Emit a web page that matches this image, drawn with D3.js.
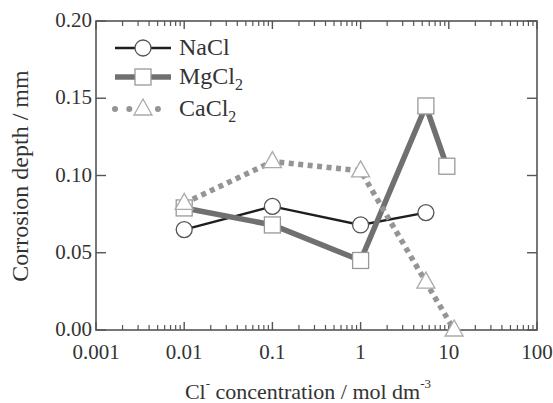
<!DOCTYPE html>
<html>
<head>
<meta charset="utf-8">
<script src="https://cdn.jsdelivr.net/npm/d3@7"></script>
<style>
  body { margin: 0; background: #fff; }
  text { font-family: "Liberation Serif", "DejaVu Serif", serif; fill: #333; }
</style>
</head>
<body>
<svg width="553" height="403"></svg>
<script>
'use strict';
// data
const xTicks = [0.001, 0.01, 0.1, 1, 10, 100]
const xTickLabels = ["0.001", "0.01", "0.1", "1", "10", "100"]
const yTicks = [0, 0.05, 0.10, 0.15, 0.20]

const naclX = [0.01, 0.1, 1, 5.5]
const naclY = [0.065, 0.080, 0.068, 0.076]
const mgcl2X = [0.01, 0.1, 1, 5.5, 9.5]
const mgcl2Y = [0.079, 0.068, 0.045, 0.145, 0.106]
const cacl2X = [0.01, 0.1, 1, 5.5, 11.5]
const cacl2Y = [0.082, 0.109, 0.103, 0.031, 0.000]

let svg = d3.select("svg")
let m = {left: 96, right: 537, top: 21, bottom: 330}

let x = d3.scaleLog().domain([0.001, 100]).range([m.left, m.right])
let y = d3.scaleLinear().domain([0, 0.2]).range([m.bottom, m.top])

const axisCol = "#555"

// minor ticks for the log axis
let minors = []
for (let dec = 0.001; dec < 100; dec *= 10)
	for (let k = 2; k <= 9; k++) minors.push(dec * k)

let gAx = svg.append("g")
// frame
gAx.append("rect")
	.attr("x", m.left).attr("y", m.top)
	.attr("width", m.right - m.left).attr("height", m.bottom - m.top)
	.attr("fill", "none").attr("stroke", axisCol).attr("stroke-width", 1.6)

// x ticks, bottom and top, pointing in
xTicks.forEach(v => {
	gAx.append("line").attr("x1", x(v)).attr("x2", x(v))
		.attr("y1", m.bottom).attr("y2", m.bottom - 8).attr("stroke", axisCol).attr("stroke-width", 1.4)
	gAx.append("line").attr("x1", x(v)).attr("x2", x(v))
		.attr("y1", m.top).attr("y2", m.top + 8).attr("stroke", axisCol).attr("stroke-width", 1.4)
})
minors.forEach(v => {
	gAx.append("line").attr("x1", x(v)).attr("x2", x(v))
		.attr("y1", m.bottom).attr("y2", m.bottom - 5).attr("stroke", axisCol).attr("stroke-width", 1.2)
	gAx.append("line").attr("x1", x(v)).attr("x2", x(v))
		.attr("y1", m.top).attr("y2", m.top + 5).attr("stroke", axisCol).attr("stroke-width", 1.2)
})
xTicks.forEach((v, i) => {
	gAx.append("text").attr("x", x(v)).attr("y", m.bottom + 29)
		.attr("text-anchor", "middle").attr("font-size", 21).text(xTickLabels[i])
})

// y ticks, left and right
yTicks.forEach(v => {
	gAx.append("line").attr("x1", m.left).attr("x2", m.left + 10)
		.attr("y1", y(v)).attr("y2", y(v)).attr("stroke", axisCol).attr("stroke-width", 1.4)
	gAx.append("line").attr("x1", m.right).attr("x2", m.right - 10)
		.attr("y1", y(v)).attr("y2", y(v)).attr("stroke", axisCol).attr("stroke-width", 1.4)
	gAx.append("text").attr("x", m.left - 4).attr("y", y(v) + 6)
		.attr("text-anchor", "end").attr("font-size", 21).text(v.toFixed(2))
})

// axis titles
let xt = svg.append("text").attr("x", 308).attr("y", 399)
	.attr("text-anchor", "middle").attr("font-size", 22)
xt.append("tspan").text("Cl")
xt.append("tspan").attr("dy", -11).attr("font-size", 13).text("-")
xt.append("tspan").attr("dy", 11).text(" concentration / mol dm")
xt.append("tspan").attr("dy", -11).attr("font-size", 13).text("-3")

svg.append("text")
	.attr("transform", "translate(28,176) rotate(-90)")
	.attr("text-anchor", "middle").attr("font-size", 24)
	.text("Corrosion depth / mm")

// series
let line = d3.line().x(d => x(d[0])).y(d => y(d[1]))
let zip = (a, b) => a.map((v, i) => [v, b[i]])

const series = [
	{name: "NaCl", pts: zip(naclX, naclY), col: "#1e1e1e", w: 2.4, dash: null, mk: "circle", mkCol: "#555"},
	{name: "MgCl", pts: zip(mgcl2X, mgcl2Y), col: "#707070", w: 5.5, dash: null, mk: "square", mkCol: "#999"},
	{name: "CaCl", pts: zip(cacl2X, cacl2Y), col: "#959595", w: 5.5, dash: "5,4.5", mk: "triangle", mkCol: "#aaa"}
]

let gLines = svg.append("g")
series.forEach(s => {
	gLines.append("path").datum(s.pts).attr("d", line)
		.attr("fill", "none").attr("stroke", s.col).attr("stroke-width", s.w)
		.attr("stroke-dasharray", s.dash)
})

function marker(g, kind, cx, cy, col) {
	if (kind === "circle")
		g.append("circle").attr("cx", cx).attr("cy", cy).attr("r", 8)
			.attr("fill", "#fff").attr("stroke", col).attr("stroke-width", 1.3)
	else if (kind === "square")
		g.append("rect").attr("x", cx - 8).attr("y", cy - 8).attr("width", 16).attr("height", 16)
			.attr("fill", "#fff").attr("stroke", col).attr("stroke-width", 1.3)
	else
		g.append("path").attr("d", `M${cx},${cy - 10}L${cx + 9},${cy + 6}L${cx - 9},${cy + 6}Z`)
			.attr("fill", "#fff").attr("stroke", col).attr("stroke-width", 1.3)
}

let gMk = svg.append("g")
series.forEach(s => {
	s.pts.forEach(p => marker(gMk, s.mk, x(p[0]), y(p[1]), s.mkCol))
})

// legend
let gLeg = svg.append("g")
const legY = [48, 77, 109]
series.forEach((s, i) => {
	let ly = legY[i]
	let ln = gLeg.append("line").attr("x1", 115).attr("x2", 171).attr("y1", ly).attr("y2", ly)
		.attr("stroke", s.col)
	if (s.dash) ln.attr("stroke-width", 6).attr("stroke-linecap", "round").attr("stroke-dasharray", "0,14.3")
	else ln.attr("stroke-width", s.w)
	marker(gLeg, s.mk, 143, ly, s.mkCol)
	let t = gLeg.append("text").attr("x", 179).attr("y", ly + 7).attr("font-size", 24)
	t.append("tspan").text(s.name)
	if (i > 0) t.append("tspan").attr("dy", 6).attr("font-size", 16).text("2")
})
</script>
</body>
</html>
